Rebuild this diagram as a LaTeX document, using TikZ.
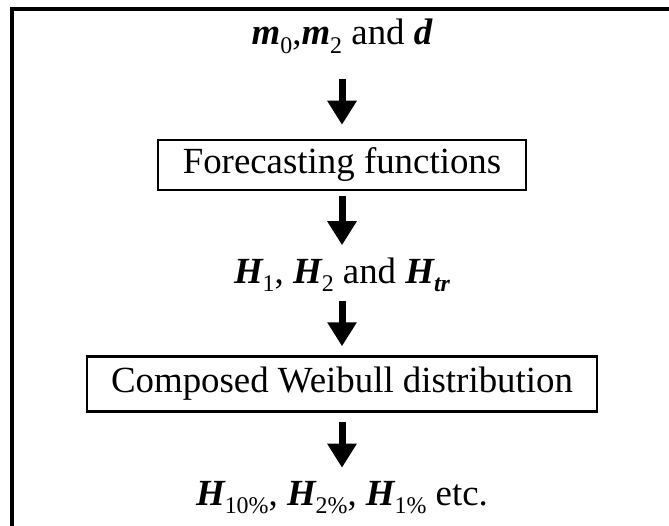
\documentclass[tikz,border=0pt]{standalone}
\usepackage{fontspec}
\setmainfont{Liberation Serif}
\usetikzlibrary{arrows.meta}
\newcommand{\bi}[1]{{\bfseries\itshape #1}}
\newcommand{\lo}[1]{\raisebox{-0.22em}{\fontsize{24}{24}\selectfont #1}}
\begin{document}
\begin{tikzpicture}[x=1bp,y=1bp,
  txt/.style={font=\fontsize{37}{44}\selectfont, anchor=base, inner sep=0pt},
  box/.style={draw, line width=2.5bp, font=\fontsize{37}{44}\selectfont, inner sep=0pt},
  fat/.style={line width=7bp, -{Triangle[length=24bp,width=28bp]}}]
\useasboundingbox (0,0) rectangle (669,-526);
% frame (only top and left edge show)
\draw[line width=3.5bp] (12,-526) -- (12,-9) -- (669,-9);
\node[txt] (inp) at (342,-45) {\bi{m}\lo{0},\bi{m}\lo{2} and \bi{d}};
\node[box, minimum width=368bp, minimum height=50bp] (fc) at (342,-165) {Forecasting functions};
\node[txt] (hs) at (342,-283) {\bi{H}\lo{1}, \bi{H}\lo{2} and \bi{H}\lo{\bi{tr}}};
\node[box, minimum width=510bp, minimum height=55bp] (cw) at (342,-384) {Composed Weibull distribution};
\node[txt] (out) at (342,-505) {\bi{H}\lo{10\%}, \bi{H}\lo{2\%}, \bi{H}\lo{1\%} etc.};
\draw[fat, shorten <=25bp, shorten >=14bp] (inp.south) -- (fc.north);
\draw[fat, shorten <=5bp, shorten >=12bp] (fc.south) -- (hs.north);
\draw[fat, shorten <=9bp, shorten >=9bp] (hs.south) -- (cw.north);
\draw[fat, shorten <=9bp, shorten >=13bp] (cw.south) -- (out.north);
\end{tikzpicture}
\end{document}
